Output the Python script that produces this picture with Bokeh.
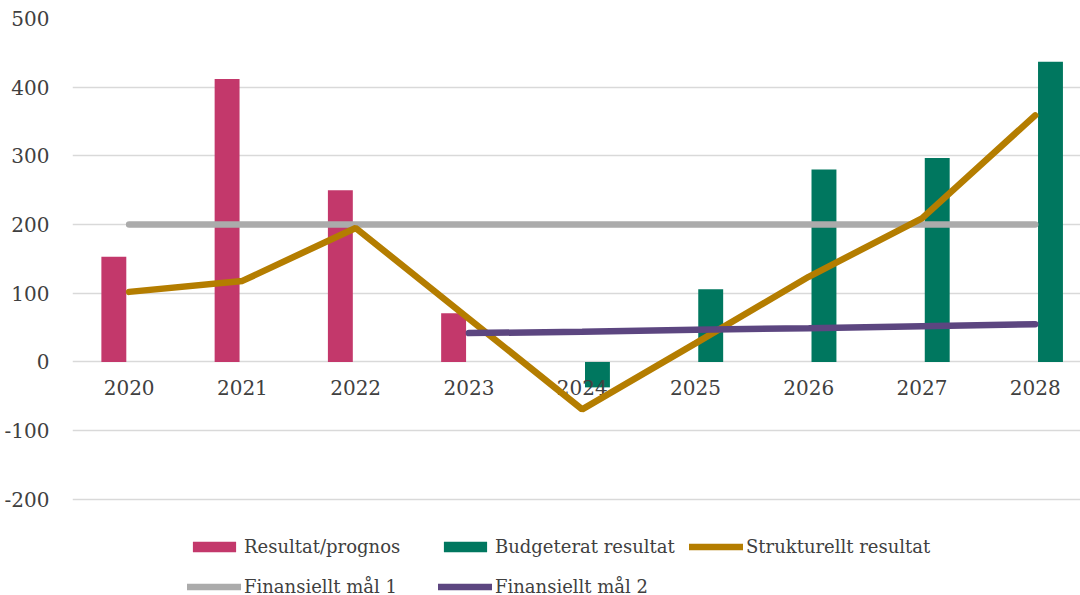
from bokeh.plotting import figure
from bokeh.models import Range1d, FixedTicker, Legend, LegendItem, ColumnDataSource
from bokeh.transform import dodge
from bokeh.core.properties import value
from bokeh.embed import file_html
from bokeh.resources import INLINE

# ---- data ----
years = [2020, 2021, 2022, 2023, 2024, 2025, 2026, 2027, 2028]
year_labels = ["2020", "2021", "2022", "2023", "2024", "2025", "2026", "2027", "2028"]

resultat_years = [2020, 2021, 2022, 2023]
resultat = [153, 412, 250, 71]

budget_years = [2024, 2025, 2026, 2027, 2028]
budget = [-37, 106, 280, 297, 437]

strukturellt = [102, 118, 195, 63, -69, 27, 124, 209, 359]

mal1_years = [2020, 2021, 2022, 2023, 2024, 2025, 2026, 2027, 2028]
mal1 = [200, 200, 200, 200, 200, 200, 200, 200, 200]

mal2_years = [2023, 2024, 2025, 2026, 2027, 2028]
mal2 = [42, 44, 47, 49, 52, 55]

y_ticks = [-200, -100, 0, 100, 200, 300, 400, 500]
y_tick_labels = ["-200", "-100", "0", "100", "200", "300", "400", "500"]

# ---- styles ----
FONT = "DejaVu Serif"
TXT = "#404040"
C_RES = "#C3386B"
C_BUD = "#00775F"
C_STR = "#B47D00"
C_M1 = "#ABABAB"
C_M2 = "#5C4680"

# frame extends below -200 to hold the legend
p = figure(width=1080, height=595, output_backend="svg", toolbar_location=None,
           x_range=Range1d(2019.5, 2028.4), y_range=Range1d(-340, 500),
           x_axis_location=None,
           min_border_left=72, min_border_right=0, min_border_top=18,
           min_border_bottom=0)
p.outline_line_color = None
p.background_fill_color = "white"

p.yaxis.ticker = FixedTicker(ticks=y_ticks)
p.yaxis.major_label_overrides = dict(zip(y_ticks, y_tick_labels))
p.yaxis.axis_line_color = None
p.yaxis.major_tick_line_color = None
p.yaxis.minor_tick_line_color = None
p.yaxis.major_label_standoff = 17
p.yaxis.major_label_text_font = FONT
p.yaxis.major_label_text_font_size = "20px"
p.yaxis.major_label_text_color = TXT

p.xgrid.visible = False
p.ygrid.ticker = FixedTicker(ticks=y_ticks)
p.ygrid.grid_line_color = "#d9d9d9"
p.ygrid.grid_line_width = 1.5

# bars
src_res = ColumnDataSource(dict(x=resultat_years, y=resultat))
src_bud = ColumnDataSource(dict(x=budget_years, y=budget))
r_res = p.vbar(x=dodge("x", -0.135), top="y", bottom=0, width=0.22, source=src_res,
               fill_color=C_RES, line_color=None)
r_bud = p.vbar(x=dodge("x", 0.135), top="y", bottom=0, width=0.22, source=src_bud,
               fill_color=C_BUD, line_color=None)

# category labels sitting just under the zero line
src_lab = ColumnDataSource(dict(x=years, y=[0] * len(years), t=year_labels))
p.text(x="x", y="y", text="t", source=src_lab, y_offset=26,
       text_align="center", text_baseline="middle",
       text_font=value(FONT), text_font_size=value("20px"), text_color=TXT)

# lines
r_m1 = p.line(mal1_years, mal1, line_color=C_M1, line_width=6.5, line_cap="round")
r_str = p.line(years, strukturellt, line_color=C_STR, line_width=6.5, line_cap="round")
r_m2 = p.line(mal2_years, mal2, line_color=C_M2, line_width=6.5, line_cap="round")

legend = Legend(items=[
    LegendItem(label="Resultat/prognos", renderers=[r_res]),
    LegendItem(label="Budgeterat resultat", renderers=[r_bud]),
    LegendItem(label="Strukturellt resultat", renderers=[r_str]),
    LegendItem(label="Finansiellt mål 1", renderers=[r_m1]),
    LegendItem(label="Finansiellt mål 2", renderers=[r_m2]),
], orientation="horizontal", ncols=3, location=(115, -5),
    glyph_width=54, glyph_height=13, label_standoff=3, label_width=182,
    label_height=28, spacing=12, padding=0, margin=0,
    border_line_color=None, background_fill_alpha=0,
    label_text_font=FONT, label_text_font_size="18px", label_text_color=TXT)
p.add_layout(legend, "center")

open("out.html", "w").write(file_html(p, INLINE))
